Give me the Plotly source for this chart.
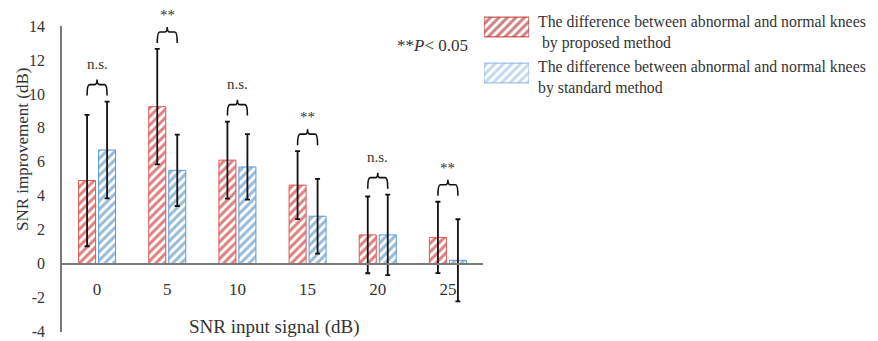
import plotly.graph_objects as go

# ---------------- data ----------------
snr_labels = ["0", "5", "10", "15", "20", "25"]
proposed = [4.9, 9.25, 6.1, 4.63, 1.7, 1.55]
proposed_err = [3.87, 3.4, 2.27, 2.0, 2.26, 2.1]
standard = [6.7, 5.5, 5.7, 2.8, 1.7, 0.2]
standard_err = [2.85, 2.1, 1.93, 2.2, 2.37, 2.42]
significance = ["n.s.", "**", "n.s.", "**", "n.s.", "**"]
series_names = [
    "The difference between abnormal and normal knees<br> by proposed method",
    "The difference between abnormal and normal knees<br>by standard method",
]
y_tickvals = [-4, -2, 0, 2, 4, 6, 8, 10, 12, 14]
y_ticktext = ["-4", "-2", "0", "2", "4", "6", "8", "10", "12", "14"]

# ---------------- style ----------------
W, H = 878, 341
ML, MR, MT, MB = 62, 10, 10, 9
PW, PH = W - ML - MR, H - MT - MB
FONT = "Liberation Serif, Times New Roman, serif"
TXT = "#333333"
AX = "#7a7a7a"
BARGAP, GROUPGAP = 0.43, 0.15
YMIN, YMAX = -4, 14

def px_x(p):
    return (p - ML) / PW

def px_y(p):
    return (H - MB - p) / PH

x_dom = [0, px_x(483)]
y_dom = [0, px_y(26)]
idx = list(range(len(snr_labels)))

red_fg, red_ln = "#C00000", "#E05555"
blue_fg, blue_ln = "#2E75B6", "#5B9BD5"

fig = go.Figure()
fig.add_trace(go.Bar(
    x=idx, y=proposed, name=series_names[0], showlegend=False,
    error_y=dict(type="data", array=proposed_err, color="#111111", thickness=1.8, width=2.5),
    marker=dict(color="white", line=dict(color=red_ln, width=1),
                pattern=dict(shape="/", fgcolor=red_fg, bgcolor="white", size=6, solidity=0.5)),
))
fig.add_trace(go.Bar(
    x=idx, y=standard, name=series_names[1], showlegend=False,
    error_y=dict(type="data", array=standard_err, color="#111111", thickness=1.8, width=2.5),
    marker=dict(color="white", line=dict(color=blue_ln, width=1),
                pattern=dict(shape="/", fgcolor=blue_fg, bgcolor="white", size=6, solidity=0.5)),
))

# legend swatches in a small inset axis
sw_colors = [("#A00000", "#C03030"), ("#8DB4E2", "#8DB4E2")]
for k, (fg, ln) in enumerate(sw_colors):
    fig.add_trace(go.Bar(
        x=[1], y=[1 - k], orientation="h", width=0.43, xaxis="x2", yaxis="y2",
        showlegend=False, hoverinfo="skip",
        marker=dict(color="white", line=dict(color=ln, width=1),
                    pattern=dict(shape="/", fgcolor=fg, bgcolor="white", size=6, solidity=0.5)),
    ))

# significance brackets
off = (1 - BARGAP) / 4
units_per_px = (YMAX - YMIN) / ((y_dom[1] - y_dom[0]) * PH)
leg = 11 * units_per_px
peak = 5 * units_per_px
gap = 6 * units_per_px
cx = 0.035
shapes = []
annotations = []
for i, lab in enumerate(significance):
    top = max(proposed[i] + proposed_err[i], standard[i] + standard_err[i])
    yb = top + gap
    yh = yb + leg
    yp = yh + peak
    x1, x2, xm = i - off, i + off, i
    path = (f"M {x1},{yb} Q {x1},{yh} {x1 + cx},{yh} L {xm - cx},{yh} "
            f"Q {xm},{yh} {xm},{yp} Q {xm},{yh} {xm + cx},{yh} "
            f"L {x2 - cx},{yh} Q {x2},{yh} {x2},{yb}")
    shapes.append(dict(type="path", path=path, xref="x", yref="y",
                       line=dict(color="#111111", width=1.6)))
    annotations.append(dict(x=xm, y=yp, xref="x", yref="y", text=lab, showarrow=False,
                            yanchor="bottom", yshift=6 if lab == "n.s." else 2,
                            font=dict(family=FONT, size=15, color=TXT)))

annotations.append(dict(x=px_x(470), y=px_y(45), xref="paper", yref="paper",
                        text="**<i>P</i>< 0.05", showarrow=False, xanchor="right", yanchor="middle",
                        font=dict(family=FONT, size=17, color=TXT)))
for k, yc in enumerate([32.5, 77]):
    annotations.append(dict(x=px_x(536), y=px_y(yc), xref="paper", yref="paper",
                            text=series_names[k], showarrow=False, xanchor="left", yanchor="middle",
                            align="left", font=dict(family=FONT, size=15.8, color=TXT)))

# axis titles as annotations for precise placement
annotations.append(dict(x=px_x(274), y=px_y(327), xref="paper", yref="paper",
                        text="SNR input signal (dB)", showarrow=False,
                        xanchor="center", yanchor="middle",
                        font=dict(family=FONT, size=19, color=TXT)))
annotations.append(dict(x=px_x(22), y=px_y(150), xref="paper", yref="paper",
                        text="SNR improvement (dB)", showarrow=False, textangle=-90,
                        xanchor="center", yanchor="middle",
                        font=dict(family=FONT, size=17, color=TXT)))

zero_pos = y_dom[0] + (0 - YMIN) / (YMAX - YMIN) * (y_dom[1] - y_dom[0])

fig.update_layout(
    width=W, height=H,
    margin=dict(l=ML, r=MR, t=MT, b=MB, autoexpand=False),
    paper_bgcolor="white", plot_bgcolor="white",
    barmode="group", bargap=BARGAP, bargroupgap=GROUPGAP,
    font=dict(family=FONT, color=TXT),
    shapes=shapes, annotations=annotations,
    xaxis=dict(domain=x_dom, range=[-0.5, 5.5], tickvals=idx, ticktext=snr_labels,
               anchor="free", position=zero_pos, showline=True, linecolor=AX, linewidth=1.5,
               ticks="", showgrid=False, zeroline=False, ticklabelstandoff=10, automargin=False,
               tickfont=dict(family=FONT, size=17, color=TXT)),
    yaxis=dict(domain=y_dom, range=[YMIN - 0.02, YMAX], tickvals=y_tickvals, ticktext=y_ticktext,
               showline=True, linecolor=AX, linewidth=1.5, ticks="", showgrid=False,
               zeroline=False, ticklabelstandoff=12, automargin=False, ticklabeloverflow="allow",
               tickfont=dict(family=FONT, size=16, color=TXT)),
    xaxis2=dict(domain=[px_x(484), px_x(529)], range=[0, 1], visible=False, anchor="y2"),
    yaxis2=dict(domain=[px_y(84.5), px_y(15.5)], range=[-0.25, 1.25], visible=False, anchor="x2"),
)

fig.write_html("out.html", config={"displayModeBar": False},
               post_script="document.body.style.margin='0';document.body.style.overflow='hidden';")
